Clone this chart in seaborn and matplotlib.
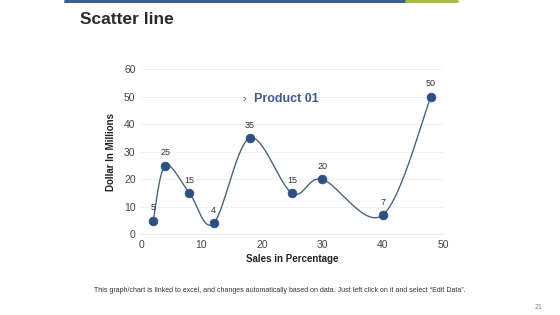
import numpy as np
import pandas as pd
import seaborn as sns
import matplotlib.pyplot as plt

# values
sales_pct = [2, 4, 8, 12, 18, 25, 30, 40, 48]
dollars = [5, 25, 15, 4, 35, 15, 20, 7, 50]
series_name = "Product 01"
x_ticks = [0, 10, 20, 30, 40, 50]
y_ticks = [0, 10, 20, 30, 40, 50, 60]


def smooth_curve(x, y, n=40):
    # Catmull-Rom style smoothing, like Excel's "smoothed line"
    x = np.asarray(x, float)
    y = np.asarray(y, float)
    px = np.concatenate([[x[0]], x, [x[-1]]])
    py = np.concatenate([[y[0]], y, [y[-1]]])
    xs, ys = [], []
    t = np.linspace(0, 1, n)
    for i in range(1, len(px) - 2):
        p0, p1, p2, p3 = [np.array([px[j], py[j]]) for j in range(i - 1, i + 3)]
        c1 = p1 + (p2 - p0) / 6
        c2 = p2 - (p3 - p1) / 6
        pts = ((1 - t) ** 3)[:, None] * p1 + (3 * (1 - t) ** 2 * t)[:, None] * c1 \
            + (3 * (1 - t) * t ** 2)[:, None] * c2 + (t ** 3)[:, None] * p2
        xs.extend(pts[:, 0])
        ys.extend(pts[:, 1])
    return np.array(xs), np.array(ys)


sns.set_style("white")
plt.rcParams["font.family"] = ["Liberation Sans", "DejaVu Sans"]

blue = "#2E4F7F"
fig = plt.figure(figsize=(5.6, 3.15), dpi=100)
ax = fig.add_axes([0.252, 0.2556, 0.539, 0.525])

cx, cy = smooth_curve(sales_pct, dollars)
curve = pd.DataFrame({"x": cx, "y": cy})
pts = pd.DataFrame({"x": sales_pct, "y": dollars})
sns.lineplot(data=curve, x="x", y="y", ax=ax, color="#4A6285", linewidth=1.0, sort=False)
sns.scatterplot(data=pts, x="x", y="y", ax=ax, color=blue, s=40, edgecolor=blue, zorder=3)

for xv, yv in zip(sales_pct, dollars):
    ax.annotate(str(yv), (xv, yv), xytext=(0, 6), textcoords="offset points",
                ha="center", va="bottom", fontsize=6.5, color="#333333")

ax.set_xlim(0, 50)
ax.set_ylim(0, 60)
ax.set_xticks(x_ticks)
ax.set_yticks(y_ticks)
ax.tick_params(labelsize=7.5, colors="#444444", length=0, pad=4)
ax.yaxis.grid(True, color="#EEEEEE", linewidth=0.6)
for s in ["top", "right", "left"]:
    ax.spines[s].set_visible(False)
ax.spines["bottom"].set_color("#E6E6E6")
ax.spines["bottom"].set_linewidth(0.6)
ax.set_xlabel("Sales in Percentage", fontsize=7, fontweight="bold", color="#222222", labelpad=3)
ax.set_ylabel("Dollar In Millions", fontsize=7, fontweight="bold", color="#222222", labelpad=6)

# legend-style label
fig.text(0.433, 0.686, "›", fontsize=8, color="#3D5A8A", ha="left", va="center")
fig.text(0.453, 0.686, series_name, fontsize=9, fontweight="bold", color="#3D5A8A",
         ha="left", va="center")

# slide decorations
fig.add_artist(plt.Line2D([0.116, 0.725], [0.996, 0.996], color="#3B5E93", linewidth=2.2))
fig.add_artist(plt.Line2D([0.725, 0.816], [0.996, 0.996], color="#A8C040", linewidth=2.2))
fig.text(0.143, 0.937, "Scatter line", fontsize=12.5, fontweight="bold", color="#2B2B2B",
         ha="left", va="center")
fig.text(0.5, 0.079, "This graph/chart is linked to excel, and changes automatically based on data. "
         "Just left click on it and select \u201cEdit Data\u201d.", fontsize=5, color="#333333",
         ha="center", va="center")
fig.text(0.962, 0.013, "21", fontsize=5, color="#888888", ha="center", va="bottom")

fig.savefig("out.png", dpi=100)
